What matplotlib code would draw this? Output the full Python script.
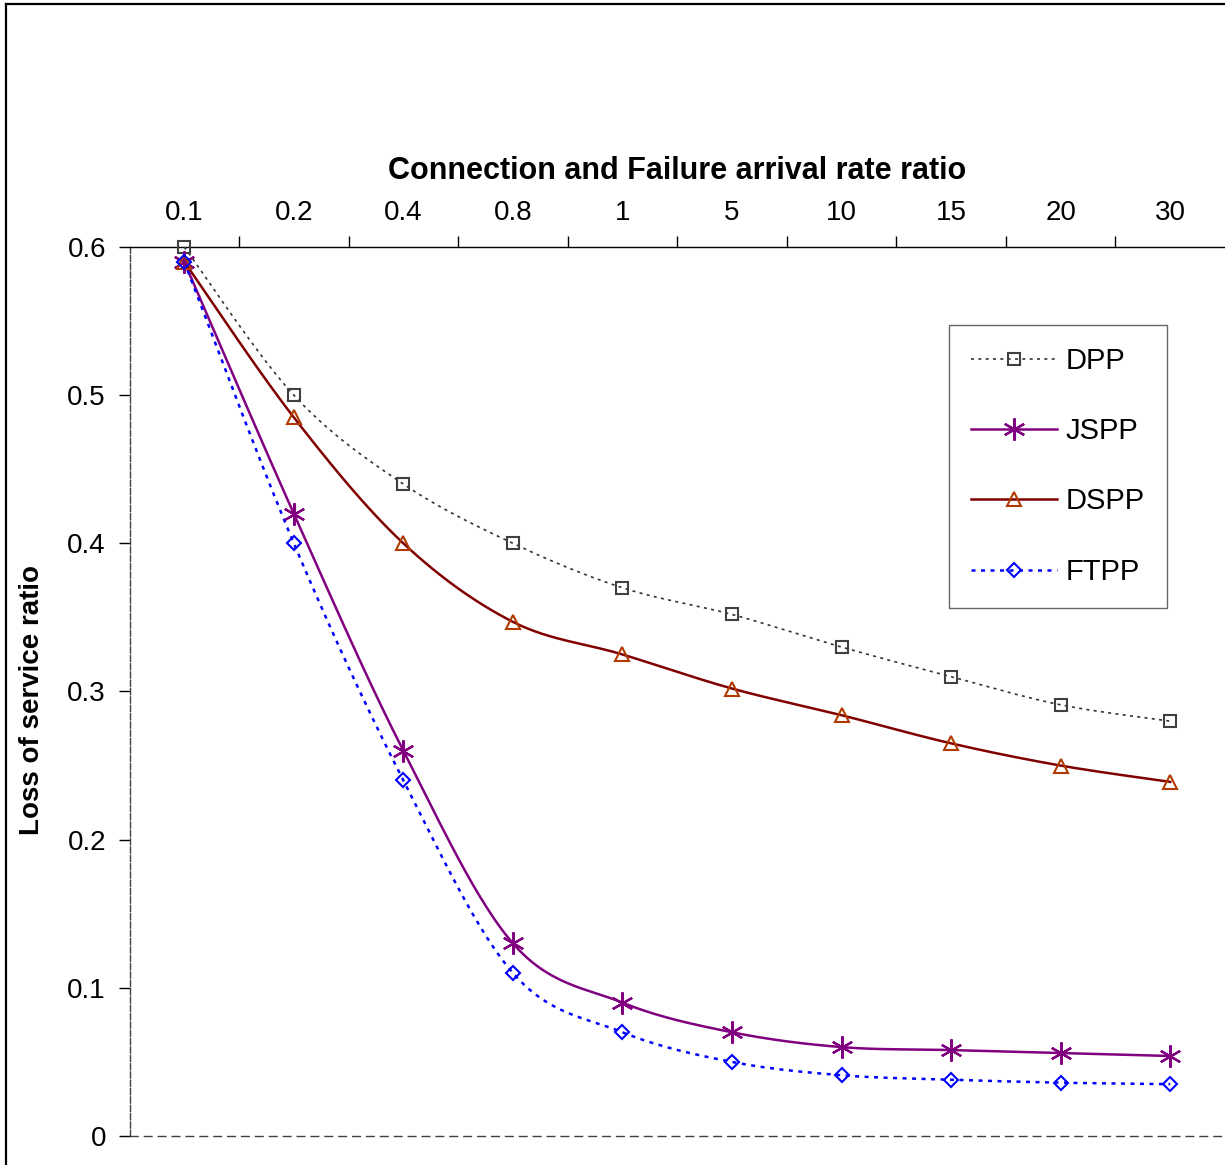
import numpy as np
import matplotlib
matplotlib.use("Agg")
import matplotlib.pyplot as plt
from matplotlib.lines import Line2D

plt.rcParams['font.family'] = ['Liberation Sans', 'DejaVu Sans']

categories = ["0.1", "0.2", "0.4", "0.8", "1", "5", "10", "15", "20", "30"]
dpp = [0.600, 0.500, 0.440, 0.400, 0.370, 0.352, 0.330, 0.310, 0.291, 0.280]
jspp = [0.590, 0.420, 0.260, 0.130, 0.090, 0.070, 0.060, 0.058, 0.056, 0.054]
dspp = [0.590, 0.485, 0.400, 0.347, 0.325, 0.302, 0.284, 0.265, 0.250, 0.239]
ftpp = [0.590, 0.400, 0.240, 0.110, 0.070, 0.050, 0.041, 0.038, 0.036, 0.035]


def smooth_curve(xs, ys, n=30):
    """Catmull-Rom curve through the given points (Excel-style smoothed line)."""
    pts = np.column_stack([xs, ys]).astype(float)
    P = np.vstack([pts[0], pts, pts[-1]])
    segs = []
    t = np.linspace(0, 1, n, endpoint=False)[:, None]
    for i in range(1, len(P) - 2):
        p0, p1, p2, p3 = P[i - 1], P[i], P[i + 1], P[i + 2]
        seg = 0.5 * ((2 * p1) + (-p0 + p2) * t
                     + (2 * p0 - 5 * p1 + 4 * p2 - p3) * t ** 2
                     + (-p0 + 3 * p1 - 3 * p2 + p3) * t ** 3)
        segs.append(seg)
    segs.append(pts[-1][None])
    c = np.vstack(segs)
    return c[:, 0], c[:, 1]


W, H = 1225, 1165
fig = plt.figure(figsize=(W / 100, H / 100), dpi=100)
ax = fig.add_axes([129.5 / W, 29 / H, (W - 129.5) / W, (1136 - 247) / H])

x = np.arange(len(categories))

series = [
    ("DPP", dpp, dict(color="#333333", ls=(0, (1.8, 2.6)), lw=1.2),
     dict(marker="s", ms=8, mfc="none", mec="#404040", mew=1.5)),
    ("JSPP", jspp, dict(color="#800080", ls="-", lw=1.8),
     dict(marker=(6, 2, 0), ms=16, mfc="none", mec="#800080", mew=1.6)),
    ("DSPP", dspp, dict(color="#800000", ls="-", lw=1.8),
     dict(marker="^", ms=10, mfc="none", mec="#B03A00", mew=1.5)),
    ("FTPP", ftpp, dict(color="#0000FF", ls=(0, (1.6, 2.2)), lw=1.8),
     dict(marker="D", ms=7, mfc="none", mec="#0000FF", mew=1.5)),
]

handles = []
for name, vals, lstyle, mstyle in series:
    sx, sy = smooth_curve(x, vals)
    ax.plot(sx, sy, clip_on=False, zorder=3, **lstyle)
    ax.plot(x, vals, ls="none", clip_on=False, zorder=4, **mstyle)
    handles.append(Line2D([], [], label=name, **lstyle, **mstyle))

ax.set_xlim(-0.5, len(categories) - 0.5)
ax.set_ylim(0, 0.6)

# category axis along the top
ax.xaxis.tick_top()
ax.xaxis.set_label_position("top")
ax.set_xticks(x)
ax.set_xticklabels(categories, fontsize=20)
ax.set_xticks(np.arange(0.5, len(categories) - 1, 1.0), minor=True)
ax.tick_params(axis="x", which="major", length=0, pad=15)
ax.tick_params(axis="x", which="minor", length=8, width=1, color="black",
               direction="out")
ax.set_xlabel("Connection and Failure arrival rate ratio", fontsize=22,
              fontweight="bold", labelpad=15)

ax.set_yticks(np.arange(0, 0.61, 0.1))
ax.set_yticklabels(["0", "0.1", "0.2", "0.3", "0.4", "0.5", "0.6"], fontsize=20)
ax.tick_params(axis="y", length=8, width=1, color="black", pad=9)

ax.spines["top"].set_color("black")
ax.spines["top"].set_linewidth(1.0)
ax.spines["right"].set_visible(False)
for s in ("left", "bottom"):
    ax.spines[s].set_color("#404040")
    ax.spines[s].set_linewidth(1.0)
ax.spines["left"].set_linestyle((0, (4.5, 1.5)))
ax.spines["bottom"].set_linestyle((0, (5.5, 4.5)))

fig.text(32 / W, 1 - 700 / H, "Loss of service ratio", rotation=90,
         fontsize=20, fontweight="bold", ha="center", va="center")

leg = ax.legend(handles=handles, loc="upper left",
                bbox_to_anchor=(949 / W, 1 - 325 / H),
                bbox_transform=fig.transFigure, fontsize=21,
                frameon=True, fancybox=False, edgecolor="#404040",
                handlelength=2.95, handletextpad=0.3, labelspacing=1.45,
                borderpad=0.75, borderaxespad=0)
leg.get_frame().set_linewidth(1.0)

# outer chart border
fig.add_artist(Line2D([6 / W, 6 / W], [0, 1 - 4 / H], color="black", lw=1.6,
                      transform=fig.transFigure))
fig.add_artist(Line2D([6 / W, 1], [1 - 4 / H, 1 - 4 / H], color="black", lw=1.6,
                      transform=fig.transFigure))

fig.savefig("out.png", dpi=100)
